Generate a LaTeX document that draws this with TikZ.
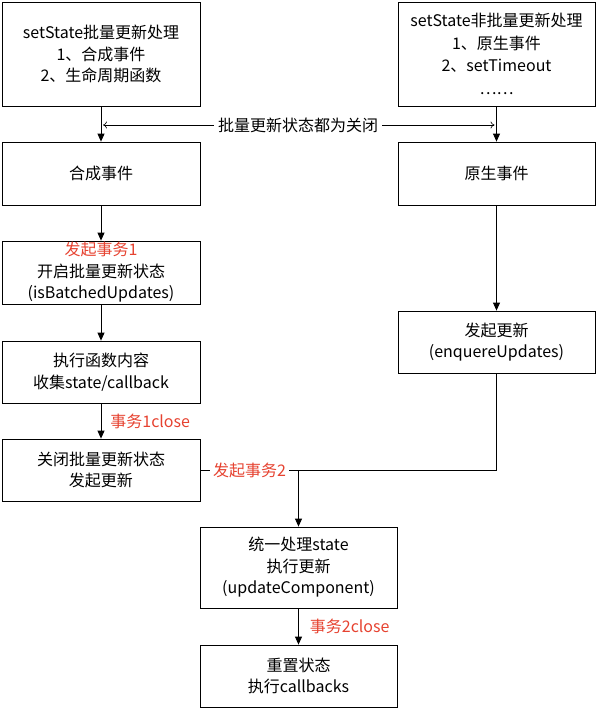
\documentclass[tikz,border=0pt]{standalone}
\usepackage{fontspec}
\setmainfont{Noto Sans CJK SC}
\usetikzlibrary{arrows.meta}
\definecolor{txred}{RGB}{230,66,48}
\tikzset{box/.style={draw,line width=0.8pt,minimum width=198pt,minimum height=62pt,align=center,inner sep=0pt,font=\fontsize{16}{21.5}\selectfont},
 flow/.style={line width=0.8pt,-{Triangle[length=8pt,width=7pt]}},
 redlab/.style={text=txred,inner sep=1pt,font=\fontsize{16}{18}\selectfont}}

\begin{document}
\begin{tikzpicture}[x=1pt,y=-1pt]
  \useasboundingbox (0,0) rectangle (597,709);
  % top row
  \node[box,minimum height=104pt] (batch) at (101,54) {setState批量更新处理\\1、合成事件\\2、生命周期函数};
  \node[box,minimum width=197pt,minimum height=104pt,font=\fontsize{16}{22.5}\selectfont] (nonbatch) at (496.5,54) {setState非批量更新处理\\1、原生事件\\2、setTimeout\\……};
  \node[inner sep=4pt,font=\fontsize{16}{18}\selectfont] (off) at (298,125) {批量更新状态都为关闭};
  % left column
  \node[box,minimum height=63pt] (synth) at (101,173.5) {合成事件};
  \node[box,minimum height=63pt] (open1) at (101,272.5) {{\color{txred}发起事务1}\\开启批量更新状态\\(isBatchedUpdates)};
  \node[box] (run) at (101,372) {执行函数内容\\收集state/callback};
  \node[box] (close1) at (101,470) {关闭批量更新状态\\发起更新};
  % right column
  \node[box,minimum width=197pt,minimum height=63pt] (native) at (496.5,173.5) {原生事件};
  \node[box,minimum width=197pt] (enq) at (496.5,342) {发起更新\\(enquereUpdates)};
  % bottom
  \node[box,minimum width=197pt,minimum height=81pt] (unify) at (298.5,567.5) {统一处理state\\执行更新\\(updateComponent)};
  \node[box,minimum width=197pt] (reset) at (298.5,676) {重置状态\\执行callbacks};
  \coordinate (meet) at (unify.north |- close1.east);

  \draw[flow] (batch) -- (synth);
  \draw[flow] (nonbatch) -- (native);
  \draw[line width=0.6pt,-{To[length=4pt,width=7pt]}] (off.west) -- ([xshift=2pt]batch.south |- off.west);
  \draw[line width=0.6pt,-{To[length=4pt,width=7pt]}] (off.east) -- ([xshift=-2pt]nonbatch.south |- off.east);
  \draw[flow] (synth) -- (open1);
  \draw[flow] (open1) -- (run);
  \draw[flow] (run) -- node[redlab,anchor=west,xshift=8pt] {事务1close} (close1);
  \draw[flow] (native) -- (enq);
  \draw[line width=0.8pt] (close1.east) -- node[redlab,fill=white,inner sep=3pt] {发起事务2} (meet);
  \draw[line width=0.8pt] (enq.south) |- (meet);
  \draw[flow] (meet) -- (unify.north);
  \draw[flow] (unify) -- node[redlab,anchor=west,xshift=10pt] {事务2close} (reset);
\end{tikzpicture}
\end{document}
